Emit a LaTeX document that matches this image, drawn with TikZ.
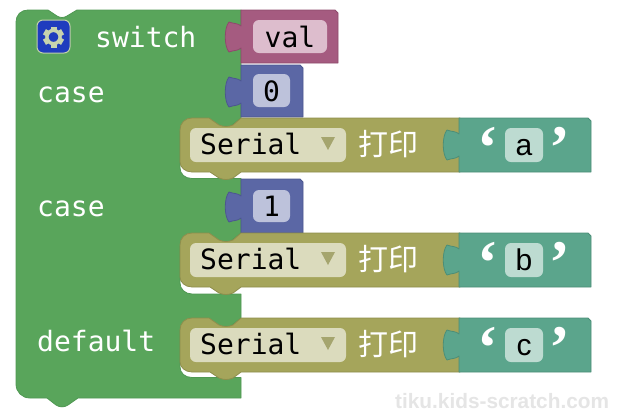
\documentclass[tikz,border=0pt]{standalone}
\usepackage{fontspec}
\setmainfont{DejaVu Sans Mono}
\newfontfamily\cjkfont{Noto Sans CJK SC}
\newfontfamily\sansfont{Liberation Sans}
\newfontfamily\quotefont{Liberation Serif}[BoldFont={Liberation Serif Bold}]
\definecolor{gr}{HTML}{59A55B}
\definecolor{grd}{HTML}{4A8F4E}
\definecolor{pk}{HTML}{A55B80}
\definecolor{pkd}{HTML}{8E4A6C}
\definecolor{pkf}{HTML}{DDBDCD}
\definecolor{bl}{HTML}{5B67A5}
\definecolor{bld}{HTML}{4C578F}
\definecolor{blf}{HTML}{BDC2DB}
\definecolor{ol}{HTML}{A5A55B}
\definecolor{old}{HTML}{8E8E4C}
\definecolor{olf}{HTML}{DBDBBD}
\definecolor{te}{HTML}{5BA58C}
\definecolor{ted}{HTML}{4C8E78}
\definecolor{tef}{HTML}{BDDBD1}
\definecolor{gearblue}{HTML}{1F3CBE}
\tikzset{
  lab/.style={font=\fontsize{28}{30}\selectfont,text=white,inner sep=0pt,anchor=base west},
  val/.style={font=\fontsize{28}{30}\selectfont,text=black,inner sep=0pt,anchor=base},
  han/.style={font=\cjkfont\fontsize{30}{32}\selectfont,text=white,inner sep=0pt,anchor=center},
  chr/.style={font=\sansfont\fontsize{30}{32}\selectfont,text=black,inner sep=0pt,anchor=base},
  quo/.style={font=\quotefont\bfseries\fontsize{62}{62}\selectfont,text=white,inner sep=0pt,anchor=center},
  fieldbox/.style={rounded corners=6pt},
  wm/.style={font=\sansfont\bfseries\fontsize{20.8}{22}\selectfont,text=black!10,inner sep=0pt,anchor=base west}
}
% value block: #1 left, #2 top, #3 right, #4 bottom, #5 tab top, #6 fill, #7 dark
\newcommand{\valblock}[7]{%
  \draw[fill=#6,draw=#7,line width=.8pt,line join=round]
    (#1,#2) -- (#3-3,#2) -- (#3,#2+3) -- (#3,#4) -- (#1,#4) -- (#1,#5+26)
    .. controls (#1-3,#5+29) and (#1-7,#5+28) .. (#1-12,#5+30)
    .. controls (#1-17,#5+24) and (#1-17,#5+6) .. (#1-12,#5)
    .. controls (#1-7,#5+2) and (#1-3,#5+1) .. (#1,#5+4) -- cycle;
}
% print block: #1 top
\newcommand{\printblock}[3]{%
  \draw[fill=ol,draw=old,line width=.8pt,line join=round]
    (192,#1) -- (209,#1) -- (219,#1+7) .. controls (224,#1+9) and (228,#1+9) .. (233,#1+7)
    -- (241,#1) -- (460,#1) -- (460,#1+54) -- (241,#1+54) -- (233,#1+60)
    .. controls (228,#1+62) and (224,#1+62) .. (219,#1+60) -- (210,#1+54) -- (192,#1+54)
    .. controls (185,#1+54) and (180,#1+49) .. (180,#1+44) -- (180,#1+12)
    .. controls (180,#1+5) and (185,#1) .. (192,#1) -- cycle;
  \fill[olf,fieldbox] (190,#1+10) rectangle (346,#1+44);
  \node[val,anchor=base west] (serial#3) at (200,#1+36) {Serial};
  \fill[old!70!olf] (321,#1+19) -- (335,#1+19) -- (328,#1+32) -- cycle;
  \node[han] (print#3) at (388,#1+26) {打印};
  \valblock{459}{#1}{591}{#1+54}{#1+12}{te}{ted}
  \fill[tef,fieldbox] (505,#1+10) rectangle (543,#1+44);
  \node[chr] (str#3) at (524,#1+37) {#2};
  \node[quo] (ql#3) at (488,#1+30) {‘};
  \node[quo] (qr#3) at (560,#1+30) {’};
}
\begin{document}
\begin{tikzpicture}[x=1pt,y=-1pt]
\useasboundingbox (0,0) rectangle (635,416);
\fill[white] (0,0) rectangle (635,416);
% main green block
\draw[fill=gr,draw=grd!60!gr,line width=.8pt,line join=round]
  (16,22) .. controls (16,15) and (21,10) .. (28,10) -- (48,10) -- (57,16)
  .. controls (60,18) and (64,18) .. (67,16) -- (77,10) -- (241,10) -- (241,118)
  -- (226,130) -- (192,130) -- (180,131) -- (180,168)
  .. controls (180,174) and (185,178.5) .. (192,178.5) -- (241,178.5) -- (241,233)
  -- (226,245) -- (192,245) -- (180,246) -- (180,283)
  .. controls (180,289) and (185,294) .. (192,294) -- (241,294) -- (241,318)
  -- (226,330) -- (192,330) -- (180,330) -- (180,367)
  .. controls (180,373) and (185,377.5) .. (192,377.5) -- (241,377.5) -- (241,398)
  -- (78,398) -- (68,405) .. controls (64,407.5) and (60,407.5) .. (56,405)
  -- (47,398) -- (30,398) .. controls (22,398) and (16,392) .. (16,384) -- cycle;
% gear icon
\fill[gearblue,draw=olf!80!gr,line width=1pt,rounded corners=6pt] (37,20) rectangle (70,53);
\foreach \a in {0,60,...,300}{\fill[olf!85!gr,rotate around={\a:(53.5,37)}] (50.5,26.5) rectangle (56.5,31);}
\draw[olf!85!gr,line width=3.4pt] (53.5,37) circle (6.6);
% labels
\node[lab] (switch) at (95,47) {switch};
\node[lab] (case0) at (37,102) {case};
\node[lab] (case1) at (37,216) {case};
\node[lab] (default) at (37,351) {default};
% value blocks
\valblock{241}{10}{338}{63}{22}{pk}{pkd}
\fill[pkf,fieldbox] (253,20) rectangle (327,53);
\node[val] (valtext) at (290,47) {val};
\valblock{241}{65}{303}{117}{77}{bl}{bld}
\fill[blf,fieldbox] (253,74) rectangle (290,107);
\node[val] (zero) at (271.5,101) {0};
\valblock{241}{179}{303}{233}{192}{bl}{bld}
\fill[blf,fieldbox] (253,190) rectangle (290,222);
\node[val] (one) at (271.5,216) {1};
% print blocks
\printblock{118}{a}{A}
\printblock{233}{b}{B}
\printblock{318}{c}{C}
% watermark
\node[wm] (mark) at (395,408) {tiku.kids-scratch.com};
\end{tikzpicture}
\end{document}
